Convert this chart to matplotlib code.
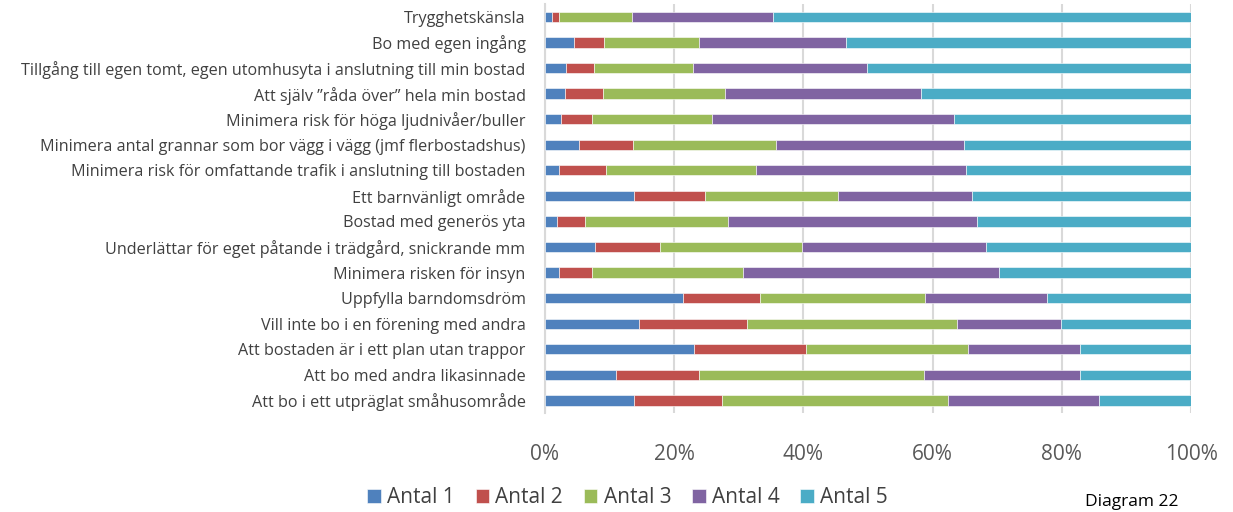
import matplotlib.pyplot as plt
import numpy as np

plt.rcParams['font.family'] = ['Open Sans', 'DejaVu Sans']

# Categories, top to bottom as in the chart
categories = [
    'Trygghetskänsla',
    'Bo med egen ingång',
    'Tillgång till egen tomt, egen utomhusyta i anslutning till min bostad',
    'Att själv \u201dråda över\u201d hela min bostad',
    'Minimera risk för höga ljudnivåer/buller',
    'Minimera antal grannar som bor vägg i vägg (jmf flerbostadshus)',
    'Minimera risk för omfattande trafik i anslutning till bostaden',
    'Ett barnvänligt område',
    'Bostad med generös yta',
    'Underlättar för eget påtande i trädgård, snickrande mm',
    'Minimera risken för insyn',
    'Uppfylla barndomsdröm',
    'Vill inte bo i en förening med andra',
    'Att bostaden är i ett plan utan trappor',
    'Att bo med andra likasinnade',
    'Att bo i ett utpräglat småhusområde',
]

# Share (%) per answer level
antal_1 = [1.1, 4.5, 3.3, 3.1, 2.5, 5.3, 2.1, 13.7, 1.8, 7.8, 2.2, 21.4, 14.6, 23.0, 11.0, 13.7]
antal_2 = [1.1, 4.6, 4.3, 5.9, 4.7, 8.3, 7.3, 11.0, 4.4, 10.0, 5.0, 11.9, 16.7, 17.4, 12.8, 13.7]
antal_3 = [11.3, 14.7, 15.3, 18.9, 18.6, 22.2, 23.3, 20.6, 22.1, 22.0, 23.5, 25.5, 32.5, 25.0, 34.8, 35.0]
antal_4 = [21.8, 22.8, 27.0, 30.3, 37.5, 29.1, 32.4, 20.8, 38.5, 28.4, 39.5, 18.9, 16.1, 17.4, 24.2, 23.4]
antal_5 = [64.7, 53.4, 50.1, 41.8, 36.7, 35.1, 34.9, 33.9, 33.2, 31.8, 29.8, 22.3, 20.1, 17.2, 17.2, 14.2]

series = [antal_1, antal_2, antal_3, antal_4, antal_5]
labels = ['Antal 1', 'Antal 2', 'Antal 3', 'Antal 4', 'Antal 5']
colors = ['#4F81BD', '#C0504D', '#9BBB59', '#8064A2', '#4BACC6']

fig = plt.figure(figsize=(12.33, 5.12), dpi=100)
ax = fig.add_axes([0.442, 0.193, 0.524, 0.799])

y = np.arange(len(categories))
data = np.array(series, dtype=float)
data = data / data.sum(axis=0) * 100
left = np.zeros(len(categories))
for vals, lab, col in zip(data, labels, colors):
    ax.barh(y, vals, left=left, height=0.4, color=col, label=lab,
            edgecolor='white', linewidth=0.4, zorder=3)
    left += vals

ax.set_xlim(0, 100)
ax.set_ylim(len(categories) - 0.5, -0.5)
ax.set_yticks(y)
ax.set_yticklabels(categories, fontsize=11.6, color='#404040')
ax.set_xticks(np.arange(0, 101, 20))
ax.set_xticklabels([f'{v}%' for v in range(0, 101, 20)], fontsize=15, color='#595959')
ax.tick_params(axis='both', length=0)
ax.tick_params(axis='x', pad=22)
ax.tick_params(axis='y', pad=14)
ax.grid(axis='x', color='#D9D9D9', linewidth=1.5, zorder=0)
for s in ['top', 'right', 'bottom']:
    ax.spines[s].set_visible(False)
ax.spines['left'].set_color('#D9D9D9')
ax.spines['left'].set_linewidth(1.5)

fig.legend(loc='center', bbox_to_anchor=(0.509, 0.028), ncol=5, frameon=False,
           fontsize=15, handlelength=0.65, handleheight=0.65, handletextpad=0.3,
           columnspacing=1.0, labelcolor='#404040', borderpad=0.1)

fig.text(0.88, 0.003, 'Diagram 22', fontsize=12.5, va='bottom', color='#000000')

fig.savefig('out.png', dpi=100)
